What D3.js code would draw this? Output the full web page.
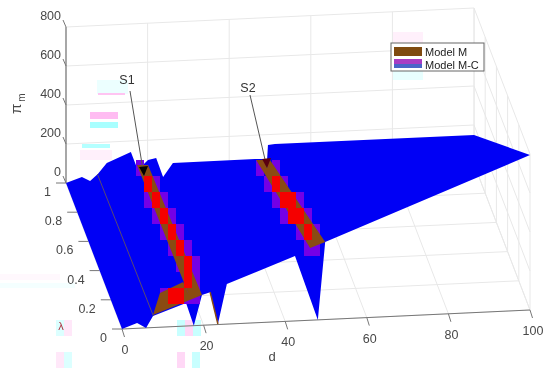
<!DOCTYPE html>
<html>
<head>
<meta charset="utf-8">
<script src="https://cdn.jsdelivr.net/npm/d3@7"></script>
<style>
  html, body { margin: 0; padding: 0; background: #fff; }
  svg { display: block; }
  text { font-family: "Liberation Sans", Arial, sans-serif; fill: #484848; }
</style>
</head>
<body>
<div id="chart"></div>
<script>
var dTicks = [0, 20, 40, 60, 80, 100],
    lambdaTicks = [0, 0.2, 0.4, 0.6, 0.8, 1],
    piTicks = [0, 200, 400, 600, 800];

// surface outline, walked round the back edge (lambda 1) then the front edge (lambda 0)
var surfaceD = [0, 3.9, 5.9, 7.8, 10, 15.9, 17.6, 20.1, 22.1, 23.8, 26.2, 46.3, 49.3, 49.5, 51.2, 100,
                100, 49.8, 48, 42.4, 25.7, 23.5, 21.6, 19.6, 17.6, 15.7, 7.6, 5.9, 3.7, 0],
    surfaceLambda = [1, 1, 1, 1, 1, 1, 1, 1, 1, 1, 1, 1, 1, 1, 1, 1,
                     0, 0, 0, 0, 0, 0, 0, 0, 0, 0, 0, 0, 0, 0],
    surfacePi = [0, 27, 5, 38, 93, 143, 50, 98, 107, 8, 77, 78, 75, 147, 150, 149,
                 795, 397, 0, 333, 206, 3, 168, 155, 0, 118, 59, 0, 27, 0];

// Model M regions
var s1D = [17.4, 20.1, 19.6, 7.6, 9.3, 15, 16.4],
    s1Lambda = [1, 1, 0, 0, 0, 0, 0],
    s1Pi = [75, 73, 155, 65, 175, 227, 158],
    s2D = [46.6, 50, 49.8, 46.1],
    s2Lambda = [1, 1, 0, 0],
    s2Pi = [72, 69, 397, 371];

// Model M-C cells
var redD = [19.6, 20.1, 20.5, 21, 21.4, 21.9, 20.4, 15, 16.9, 50.5, 50.9, 52.9, 51.4, 53.3, 53.8],
    redLambda = [0.966, 0.856, 0.747, 0.637, 0.527, 0.418, 0.308, 0.199, 0.199, 0.927, 0.817, 0.816, 0.706, 0.703, 0.596],
    purpleD = [19.1, 21.6, 18.1, 22, 18.6, 22.5, 19, 23, 19.5, 23.4, 20, 23.9, 22.3, 13, 18.9, 20.8,
               48, 52, 48.5, 52.4, 48.9, 54.8, 49.4, 55.3, 51.8, 55.7, 52.3, 54.2],
    purpleLambda = [1.075, 0.966, 0.856, 0.856, 0.747, 0.747, 0.637, 0.637, 0.527, 0.527, 0.418, 0.418, 0.308, 0.199, 0.199, 0.199,
                    1.04, 1.04, 0.925, 0.925, 0.815, 0.815, 0.705, 0.705, 0.595, 0.595, 0.486, 0.486];

var legendLabels = ['Model M', 'Model M-C'];

function init() {
  var width = 550,
      height = 368,
      cellW = 8,
      cellH = 16,
      gridColor = '#e8e8e8',
      brown = '#8a4b12';

  var dX = d3.scaleLinear().domain([0, 100]).range([122, 530]),
      dY = d3.scaleLinear().domain([0, 100]).range([329, 310]),
      lambdaX = d3.scaleLinear().domain([0, 1]).range([0, -56]),
      lambdaY = d3.scaleLinear().domain([0, 1]).range([0, -146]),
      piY = d3.scaleLinear().domain([0, 800]).range([0, -156]);

  function project(d, l, p) {
    return [dX(d) + lambdaX(l), dY(d) + lambdaY(l) + piY(p || 0)];
  }

  function outline(ds, ls, ps) {
    return d3.line()(ds.map(function(d, i) { return project(d, ls[i], ps[i]); })) + 'Z';
  }

  var svg = d3.select('#chart')
    .append('svg')
      .attr('width', width)
      .attr('height', height)
      .style('filter', 'blur(0.35px)');

  function segment(a, b, color, w) {
    svg.append('line')
      .attr('x1', a[0]).attr('y1', a[1])
      .attr('x2', b[0]).attr('y2', b[1])
      .attr('stroke', color)
      .attr('stroke-width', w || 1);
  }

  // jpeg colour ghosts in the white parts of the source picture
  var ghosts = [
    [97, 80, 31, 14, '#ecffff'], [98, 93, 27, 2, '#ffc4f2'],
    [90, 112, 28, 7, '#ffbcf2'], [90, 122, 28, 6, '#a8ffff'],
    [82, 144, 28, 4, '#b4ffff'], [80, 150, 32, 10, '#fff0fb'],
    [393, 32, 30, 11, '#fff0fb'], [393, 71, 30, 9, '#e8ffff'],
    [0, 274, 60, 6, '#fff8fd'], [0, 283, 75, 5, '#f4ffff'],
    [56, 320, 8, 16, '#dcffff'], [64, 320, 8, 16, '#ffe8f9'],
    [56, 352, 8, 16, '#ffe8f9'], [64, 352, 8, 16, '#dcffff'],
    [177, 320, 8, 16, '#c8ffff'], [185, 320, 8, 16, '#ffd8f6'],
    [193, 320, 8, 16, '#c8ffff'],
    [177, 352, 8, 16, '#ffd8f6'], [192, 352, 8, 16, '#c8ffff']
  ];
  svg.selectAll('rect.ghost').data(ghosts)
    .enter()
      .append('rect')
        .attr('class', 'ghost')
        .attr('x', function(g) { return g[0]; })
        .attr('y', function(g) { return g[1]; })
        .attr('width', function(g) { return g[2]; })
        .attr('height', function(g) { return g[3]; })
        .attr('fill', function(g) { return g[4]; });

  // grids on the back wall, the right wall and the floor
  piTicks.forEach(function(p) {
    segment(project(0, 1, p), project(100, 1, p), gridColor);
    segment(project(100, 1, p), project(100, 0, p), gridColor);
  });
  dTicks.forEach(function(d) {
    segment(project(d, 1, 0), project(d, 1, 800), gridColor);
    segment(project(d, 0, 0), project(d, 1, 0), gridColor);
  });
  lambdaTicks.forEach(function(l) {
    segment(project(0, l, 0), project(100, l, 0), gridColor);
    segment(project(100, l, 0), project(100, l, 800), gridColor);
  });

  // axes
  segment(project(0, 0, 0), project(100, 0, 0), '#777');
  segment(project(0, 1, 0), project(0, 1, 800), '#888', 1.4);

  dTicks.forEach(function(d) {
    var p = project(d, 0, 0);
    segment(p, [p[0] + 2.5, p[1] + 8], '#777');
    svg.append('text')
      .attr('x', p[0] + 3)
      .attr('y', p[1] + 25)
      .attr('text-anchor', 'middle')
      .attr('font-size', 12.5)
      .text(d);
  });
  lambdaTicks.forEach(function(l) {
    var p = project(0, l, 0);
    segment(p, [p[0] - 10, p[1]], '#777');
    svg.append('text')
      .attr('x', p[0] - 15)
      .attr('y', p[1] + 13)
      .attr('text-anchor', 'end')
      .attr('font-size', 12.5)
      .text(l);
  });
  piTicks.forEach(function(v) {
    var p = project(0, 1, v);
    segment(p, [p[0] - 3, p[1] - 7], '#777');
    svg.append('text')
      .attr('x', p[0] - 5)
      .attr('y', p[1] - 7)
      .attr('text-anchor', 'end')
      .attr('font-size', 12.5)
      .text(v);
  });

  svg.append('text')
    .attr('x', 272).attr('y', 361)
    .attr('text-anchor', 'middle')
    .attr('font-size', 13)
    .text('d');
  svg.append('text')
    .attr('x', 61).attr('y', 330)
    .attr('text-anchor', 'middle')
    .attr('font-size', 11)
    .style('fill', '#b03040')
    .text('λ');
  var piLabel = svg.append('text')
    .attr('transform', 'translate(21,114) rotate(-90)')
    .attr('font-size', 15)
    .text('π');
  piLabel.append('tspan')
    .attr('dy', 4)
    .attr('dx', 2)
    .attr('font-size', 10)
    .text('m');

  // surface
  svg.append('path')
    .attr('d', outline(surfaceD, surfaceLambda, surfacePi))
    .attr('fill', '#0000f5');

  function cells(ds, ls, color) {
    svg.append('g').selectAll('rect').data(ds)
      .enter()
        .append('rect')
          .attr('x', function(d, i) { return Math.floor(project(d, ls[i])[0] / cellW) * cellW; })
          .attr('y', function(d, i) { return Math.floor(project(d, ls[i])[1] / cellH) * cellH; })
          .attr('width', cellW)
          .attr('height', cellH)
          .attr('fill', color);
  }

  cells(purpleD, purpleLambda, '#7400e6');

  svg.append('path')
    .attr('d', outline(s1D, s1Lambda, s1Pi))
    .attr('fill', brown);
  svg.append('path')
    .attr('d', outline(s2D, s2Lambda, s2Pi))
    .attr('fill', brown);

  cells(redD, redLambda, '#f50000');

  // thin Model M ridges left over on the surface
  segment(project(7.7, 1, 38), project(7.7, 0, 59), '#5a4a70', 1);
  segment(project(21.6, 0, 168), project(23.5, 0, 3), brown, 1.5);

  // S1 and S2 annotations
  [['S1', 127, 84, 130, 91, 144, 176, '#000'], ['S2', 248, 92, 250, 95, 267, 168, '#5a0010']].forEach(function(a) {
    svg.append('text')
      .attr('x', a[1]).attr('y', a[2])
      .attr('text-anchor', 'middle')
      .attr('font-size', 12.5)
      .style('fill', '#333')
      .text(a[0]);
    segment([a[3], a[4]], [a[5], a[6]], '#555');
    svg.append('path')
      .attr('d', 'M' + (a[5] - 5) + ',' + (a[6] - 9) + 'L' + (a[5] + 4) + ',' + (a[6] - 10) + 'L' + a[5] + ',' + a[6] + 'Z')
      .attr('fill', a[7]);
  });

  // legend
  var legend = svg.append('g');
  legend.append('rect')
    .attr('x', 391).attr('y', 43)
    .attr('width', 93).attr('height', 28)
    .attr('fill', '#fff')
    .attr('stroke', '#666');
  legend.append('rect')
    .attr('x', 394).attr('y', 47)
    .attr('width', 28).attr('height', 9)
    .attr('fill', '#7f4a10');
  legend.append('rect')
    .attr('x', 394).attr('y', 59)
    .attr('width', 28).attr('height', 5)
    .attr('fill', '#a83cc4');
  legend.append('rect')
    .attr('x', 394).attr('y', 64)
    .attr('width', 28).attr('height', 4)
    .attr('fill', '#4a64c8');
  legend.selectAll('text').data(legendLabels)
    .enter()
      .append('text')
        .attr('x', 425)
        .attr('y', function(d, i) { return 56 + i * 12.5; })
        .attr('font-size', 11)
        .style('fill', '#222')
        .text(function(d) { return d; });
}

d3.select(window).on('load', init);
</script>
</body>
</html>
